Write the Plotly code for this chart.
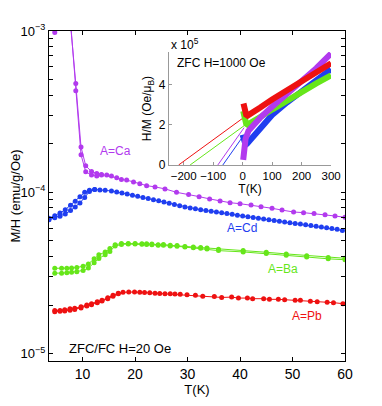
import math

import plotly.graph_objects as go

# ---- main panel: ZFC/FC M/H vs T (values in emu/g/Oe) ----
ca_t_a = [4.7, 5.7, 6.7, 7.7, 8.7, 9.7, 10.6, 11.7, 12.7, 13.6, 14.6, 15.5, 16.5, 17.4, 18.4,
          19.7, 20.9, 22.2, 23.8, 25.7, 27.9, 30.2, 32.2, 34.2, 36.2, 38.1, 40.0, 42.1, 44.0,
          46.1, 48.0, 50.2, 52.1, 54.1, 56.2, 58.1, 60.0]
ca_v_a = [9.8e-4, 1.6e-3, 1.4e-3, 1.1e-3, 4.73e-4, 1.91e-4, 1.46e-4, 1.345e-4, 1.31e-4, 1.29e-4,
          1.28e-4, 1.26e-4, 1.23e-4, 1.20e-4, 1.19e-4, 1.16e-4, 1.13e-4, 1.10e-4, 1.08e-4,
          1.05e-4, 1.00e-4, 9.7e-5, 9.4e-5, 9.1e-5, 8.83e-5, 8.62e-5, 8.5e-5, 8.34e-5, 8.15e-5,
          7.96e-5, 7.76e-5, 7.55e-5, 7.48e-5, 7.38e-5, 7.26e-5, 7.13e-5, 7.0e-5]
ca_t_b = [5.7, 6.7, 7.7, 8.7, 9.7, 10.6, 11.7, 12.7, 13.6]
ca_v_b = [1.8e-3, 1.5e-3, 1.15e-3, 4.26e-4, 1.71e-4, 1.34e-4, 1.28e-4, 1.26e-4, 1.28e-4]

cd_t_a = [3.6, 4.7, 5.7, 6.7, 7.7, 8.6, 9.5, 10.4, 11.3, 12.3, 13.3, 14.3, 15.5, 16.5, 17.5,
          18.5, 19.5, 20.5, 21.5, 22.5, 23.5, 24.5, 25.5, 26.5, 27.5, 28.5, 29.5, 30.5, 31.5,
          32.5, 33.5, 34.5, 35.5, 36.5, 37.5, 38.5, 39.5, 40.5, 41.5, 42.5, 43.5, 44.5, 45.5,
          46.5, 47.5, 48.5, 49.5, 50.5, 51.5, 52.5, 53.5, 54.5, 55.5, 56.5, 57.5, 58.5, 59.5]
cd_v_a = [6.9e-5, 7.15e-5, 7.45e-5, 7.8e-5, 8.3e-5, 8.8e-5, 9.4e-5, 1.0e-4, 1.03e-4, 1.04e-4,
          1.035e-4, 1.03e-4, 1.02e-4, 1.005e-4, 9.9e-5, 9.75e-5, 9.6e-5, 9.45e-5, 9.3e-5,
          9.15e-5, 9.0e-5, 8.85e-5, 8.7e-5, 8.55e-5, 8.4e-5, 8.25e-5, 8.12e-5, 8.0e-5, 7.9e-5,
          7.8e-5, 7.72e-5, 7.63e-5, 7.55e-5, 7.46e-5, 7.38e-5, 7.3e-5, 7.22e-5, 7.13e-5, 7.05e-5,
          6.97e-5, 6.9e-5, 6.82e-5, 6.75e-5, 6.68e-5, 6.61e-5, 6.54e-5, 6.47e-5, 6.41e-5, 6.35e-5,
          6.29e-5, 6.22e-5, 6.16e-5, 6.1e-5, 6.04e-5, 5.97e-5, 5.9e-5, 5.8e-5]
cd_t_b = [3.6, 4.7, 5.7, 6.7, 7.7, 8.6, 9.5, 10.4, 11.3, 12.3]
cd_v_b = [6.75e-5, 6.95e-5, 7.1e-5, 7.35e-5, 7.7e-5, 8.1e-5, 8.6e-5, 9.3e-5, 1.01e-4, 1.04e-4]

ba_t = [4.7, 6.0, 7.0, 7.9, 8.9, 10.1, 11.1, 12.2, 13.1, 14.3, 15.2, 16.2, 17.4, 18.7, 20.0,
        21.3, 22.2, 23.2, 24.4, 25.4, 26.7, 28.0, 29.5, 31.1, 32.5, 33.7, 35.9, 40.6, 45.0,
        48.8, 52.7, 56.8, 60.0]
ba_v_a = [3.38e-5, 3.38e-5, 3.38e-5, 3.39e-5, 3.42e-5, 3.48e-5, 3.60e-5, 3.87e-5, 4.10e-5,
          4.26e-5, 4.49e-5, 4.73e-5, 4.82e-5, 4.82e-5, 4.82e-5, 4.80e-5, 4.80e-5, 4.78e-5,
          4.73e-5, 4.75e-5, 4.69e-5, 4.68e-5, 4.62e-5, 4.58e-5, 4.55e-5, 4.52e-5, 4.43e-5,
          4.35e-5, 4.25e-5, 4.15e-5, 4.05e-5, 3.95e-5, 3.9e-5]
ba_v_b = [3.15e-5, 3.15e-5, 3.17e-5, 3.19e-5, 3.22e-5, 3.28e-5, 3.39e-5, 3.66e-5, 3.89e-5,
          4.10e-5, 4.30e-5, 4.64e-5, 4.75e-5, 4.78e-5, 4.78e-5, 4.76e-5, 4.75e-5, 4.73e-5,
          4.70e-5, 4.70e-5, 4.65e-5, 4.63e-5, 4.58e-5, 4.53e-5, 4.50e-5, 4.46e-5, 4.35e-5,
          4.27e-5, 4.17e-5, 4.07e-5, 3.97e-5, 3.87e-5, 3.82e-5]

pb_t_a = [4.7, 5.7, 6.6, 7.6, 8.5, 9.7, 10.8, 11.7, 12.8, 13.7, 14.8, 15.8, 16.8, 17.7, 18.8,
          19.9, 20.9, 21.8, 22.8, 23.8, 24.7, 25.7, 26.7, 27.6, 28.6, 29.9, 31.5, 32.9, 35.1,
          36.5, 38.4, 39.7, 41.4, 42.4, 44.5, 45.6, 47.3, 48.5, 50.5, 51.5, 53.4, 54.7, 56.6,
          57.8, 59.6]
pb_v_a = [1.85e-5, 1.85e-5, 1.87e-5, 1.90e-5, 1.91e-5, 1.95e-5, 2.00e-5, 2.04e-5, 2.10e-5,
          2.14e-5, 2.22e-5, 2.30e-5, 2.37e-5, 2.40e-5, 2.41e-5, 2.41e-5, 2.40e-5, 2.39e-5,
          2.38e-5, 2.37e-5, 2.36e-5, 2.35e-5, 2.35e-5, 2.34e-5, 2.33e-5, 2.32e-5, 2.30e-5,
          2.27e-5, 2.26e-5, 2.23e-5, 2.24e-5, 2.21e-5, 2.21e-5, 2.19e-5, 2.19e-5, 2.17e-5,
          2.17e-5, 2.16e-5, 2.14e-5, 2.14e-5, 2.11e-5, 2.10e-5, 2.08e-5, 2.07e-5, 2.04e-5]
pb_t_b = [4.7, 5.7, 6.6, 7.6, 8.5, 9.7, 10.8, 11.7, 12.8, 13.7, 14.8, 15.8, 16.8]
pb_v_b = [1.82e-5, 1.83e-5, 1.84e-5, 1.86e-5, 1.88e-5, 1.92e-5, 1.97e-5, 2.01e-5, 2.07e-5,
          2.12e-5, 2.19e-5, 2.27e-5, 2.35e-5]

# ---- inset: ZFC H/M vs T (units of 1e5 Oe/muB) ----
in_ca_t = [2, 3, 5, 10, 20, 40, 60, 100, 150, 200, 250, 300]
in_ca_v = [0.25, 0.55, 0.9, 1.3, 1.7, 2.05, 2.35, 2.89, 3.5, 4.12, 4.8, 5.53]
in_cd_t = [0, 3, 6, 10, 15, 30, 60, 100, 150, 200, 250, 300]
in_cd_v = [1.5, 1.3, 1.1, 1.0, 1.05, 1.3, 1.8, 2.48, 3.1, 3.63, 4.15, 4.75]
in_ba_t = [2, 4, 8, 12, 17, 30, 60, 100, 150, 200, 250, 300]
in_ba_v = [2.68, 2.5, 2.2, 2.05, 2.0, 2.1, 2.38, 2.75, 3.2, 3.65, 4.05, 4.45]
in_pb_t = [3, 5, 8, 12, 17, 30, 60, 100, 150, 200, 250, 300]
in_pb_v = [3.05, 2.9, 2.65, 2.5, 2.45, 2.55, 2.85, 3.25, 3.7, 4.15, 4.6, 5.05]

# Curie-Weiss extrapolations (start at theta, end near the data)
fit_ca_t = [-84, 5]
fit_ca_v = [0, 1.85]
fit_cd_t = [-67, 5]
fit_cd_v = [0, 1.5]
fit_ba_t = [-178, 8]
fit_ba_v = [0, 1.98]
fit_pb_t = [-217, 8]
fit_pb_v = [0, 2.4]

# log axis ticks
y_major = [1e-5, 1e-4, 1e-3]
y_major_text = ["10<sup>\u22125</sup>", "10<sup>\u22124</sup>", "10<sup>\u22123</sup>"]
y_minor = [9e-6, 2e-5, 3e-5, 4e-5, 5e-5, 6e-5, 7e-5, 8e-5, 9e-5,
           2e-4, 3e-4, 4e-4, 5e-4, 6e-4, 7e-4, 8e-4, 9e-4]

PURPLE = "#b23aee"
BLUE = "#1f3ef0"
GREEN = "#66e61a"
RED = "#ee1111"
FONT = "Liberation Sans, Arial, sans-serif"

fig = go.Figure()


def add_main(t, v, color):
    fig.add_trace(go.Scatter(
        x=t, y=v, mode="lines+markers",
        line=dict(color=color, width=1),
        marker=dict(color=color, size=5),
        showlegend=False, hoverinfo="skip", xaxis="x", yaxis="y",
    ))


for t, v, c in [
    (ca_t_a, ca_v_a, PURPLE), (ca_t_b, ca_v_b, PURPLE),
    (cd_t_a, cd_v_a, BLUE), (cd_t_b, cd_v_b, BLUE),
    (ba_t, ba_v_a, GREEN), (ba_t, ba_v_b, GREEN),
    (pb_t_a, pb_v_a, RED), (pb_t_b, pb_v_b, RED),
]:
    add_main(t, v, c)

for t, v, c in [(fit_ca_t, fit_ca_v, PURPLE), (fit_cd_t, fit_cd_v, BLUE),
                (fit_ba_t, fit_ba_v, GREEN), (fit_pb_t, fit_pb_v, RED)]:
    fig.add_trace(go.Scatter(x=t, y=v, mode="lines", line=dict(color=c, width=1),
                             showlegend=False, hoverinfo="skip", xaxis="x2", yaxis="y2"))

for t, v, c in [(in_cd_t, in_cd_v, BLUE), (in_ba_t, in_ba_v, GREEN),
                (in_ca_t, in_ca_v, PURPLE), (in_pb_t, in_pb_v, RED)]:
    fig.add_trace(go.Scatter(x=t, y=v, mode="lines", line=dict(color=c, width=6),
                             showlegend=False, hoverinfo="skip", xaxis="x2", yaxis="y2"))

labels = [
    ("A=Ca", 16.2, 1.8e-4, PURPLE),
    ("A=Cd", 40.4, 5.97e-5, BLUE),
    ("A=Ba", 48.2, 3.33e-5, GREEN),
    ("A=Pb", 52.8, 1.7e-5, RED),
]
for text, x, y, c in labels:
    fig.add_annotation(x=x, y=math.log10(y), xref="x", yref="y", text=text, showarrow=False,
                       font=dict(size=12, color=c, family=FONT))

fig.add_annotation(x=17.1, y=-4.969, xref="x", yref="y", text="ZFC/FC H=20 Oe", showarrow=False,
                   font=dict(size=13, color="black", family=FONT))
fig.add_annotation(x=0.405, y=0.962, xref="paper", yref="paper", xanchor="left", yanchor="middle",
                   text="x 10<sup>5</sup>", showarrow=False, font=dict(size=12, color="black", family=FONT))
fig.add_annotation(x=-228, y=5.05, xref="x2", yref="y2", xanchor="left", yanchor="middle",
                   text="ZFC H=1000 Oe", showarrow=False, font=dict(size=12, color="black", family=FONT))

# the page body adds an 8px offset, so the figure is sized and placed to compensate
fig.update_layout(
    width=366,
    height=390,
    margin=dict(l=41, r=29, t=23, b=37),
    paper_bgcolor="white",
    plot_bgcolor="white",
    font=dict(family=FONT, size=13, color="black"),
    xaxis=dict(
        domain=[0, 1], range=[3.6, 60], tickvals=[10, 20, 30, 40, 50, 60], automargin=False,
        ticks="inside", ticklen=4, tickcolor="black", showline=True, linecolor="black",
        linewidth=1, mirror="ticks", showgrid=False, zeroline=False,
        title=dict(text="T(K)", standoff=0, font=dict(size=13)), tickfont=dict(size=14),
    ),
    yaxis=dict(
        domain=[0, 1], type="log", range=[math.log10(9e-6), -3], automargin=False,
        tickmode="array", tickvals=y_major, ticktext=y_major_text,
        minor=dict(tickmode="array", tickvals=y_minor, ticks="inside", ticklen=4,
                   tickcolor="black", showgrid=False),
        ticks="inside", ticklen=4, tickcolor="black", showline=True, linecolor="black",
        linewidth=1, mirror="ticks", showgrid=False, zeroline=False,
        title=dict(text="M/H (emu/g/Oe)", standoff=0, font=dict(size=13)), tickfont=dict(size=13),
    ),
    xaxis2=dict(
        domain=[0.405, 0.953], anchor="y2", range=[-250, 300], automargin=False,
        tickvals=[-200, -100, 0, 100, 200, 300], tickangle=0,
        ticks="inside", ticklen=3, tickcolor="#999999", showline=True, linecolor="#999999",
        linewidth=1, showgrid=False, zeroline=False,
        title=dict(text="T(K)", standoff=0, font=dict(size=12)), tickfont=dict(size=11.5),
    ),
    yaxis2=dict(
        domain=[0.594, 0.936], anchor="x2", range=[0, 5.6], tickvals=[0, 2, 4], automargin=False,
        ticks="inside", ticklen=3, tickcolor="#999999", showline=True, linecolor="#999999",
        linewidth=1, showgrid=False, zeroline=False,
        title=dict(text="H/M (Oe/\u03bc<sub>B</sub>)", standoff=4, font=dict(size=12)),
        tickfont=dict(size=12),
    ),
)

fig.write_html("out.html")
